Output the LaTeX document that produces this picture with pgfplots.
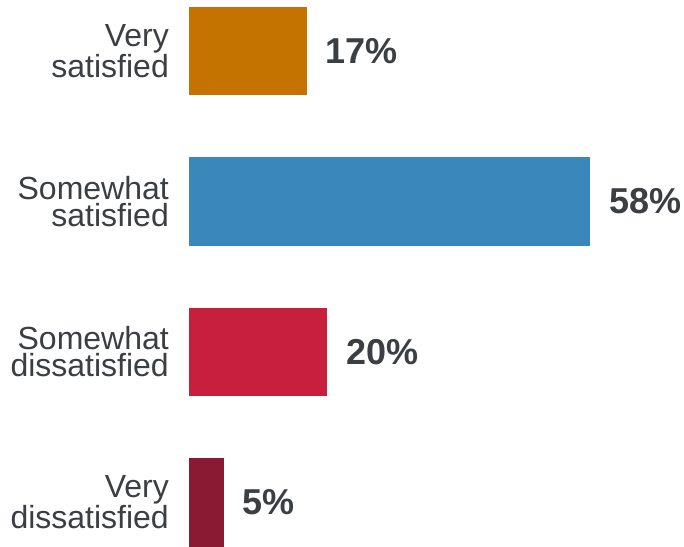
\documentclass[border=0pt]{standalone}
\usepackage{pgfplots}
\pgfplotsset{compat=1.18}
\usepackage{fontspec}
\setmainfont{Liberation Sans}
\definecolor{cOrange}{HTML}{C47200}
\definecolor{cBlue}{HTML}{3987BB}
\definecolor{cRed}{HTML}{C81F3E}
\definecolor{cDark}{HTML}{8A1934}
\definecolor{txt}{HTML}{3B3E42}
\tikzset{catlabel/.style={anchor=east, align=right, font=\fontsize{32}{27}\selectfont, text=txt, inner sep=0pt, xshift=-20pt}}
\begin{document}
\begin{tikzpicture}
\begin{axis}[
 scale only axis, width=684pt, height=546pt,
 xmin=-27.34, xmax=71.6, ymin=-0.289, ymax=3.339,
 axis line style={draw=none}, ticks=none,
 xbar, bar width=88.5pt, bar shift=0pt,
 clip=false,
 point meta=x,
 /pgf/number format/assume math mode=true,
 nodes near coords={\pgfmathprintnumber{\pgfplotspointmeta}\%},
 nodes near coords style={font=\fontsize{36}{36}\selectfont\bfseries, text=txt, anchor=west, inner sep=0pt, xshift=19pt},
]
\addplot[draw=none, fill=cOrange] coordinates {(17,3)};
\addplot[draw=none, fill=cBlue] coordinates {(58,2)};
\addplot[draw=none, fill=cRed] coordinates {(20,1)};
\addplot[draw=none, fill=cDark] coordinates {(5,0)};
\node[catlabel] at (axis cs:0,3) {Very\\satisfied};
\node[catlabel] at (axis cs:0,2) {Somewhat\\satisfied};
\node[catlabel] at (axis cs:0,1) {Somewhat\\dissatisfied};
\node[catlabel] at (axis cs:0,0) {Very\\dissatisfied};
\end{axis}
\end{tikzpicture}
\end{document}
